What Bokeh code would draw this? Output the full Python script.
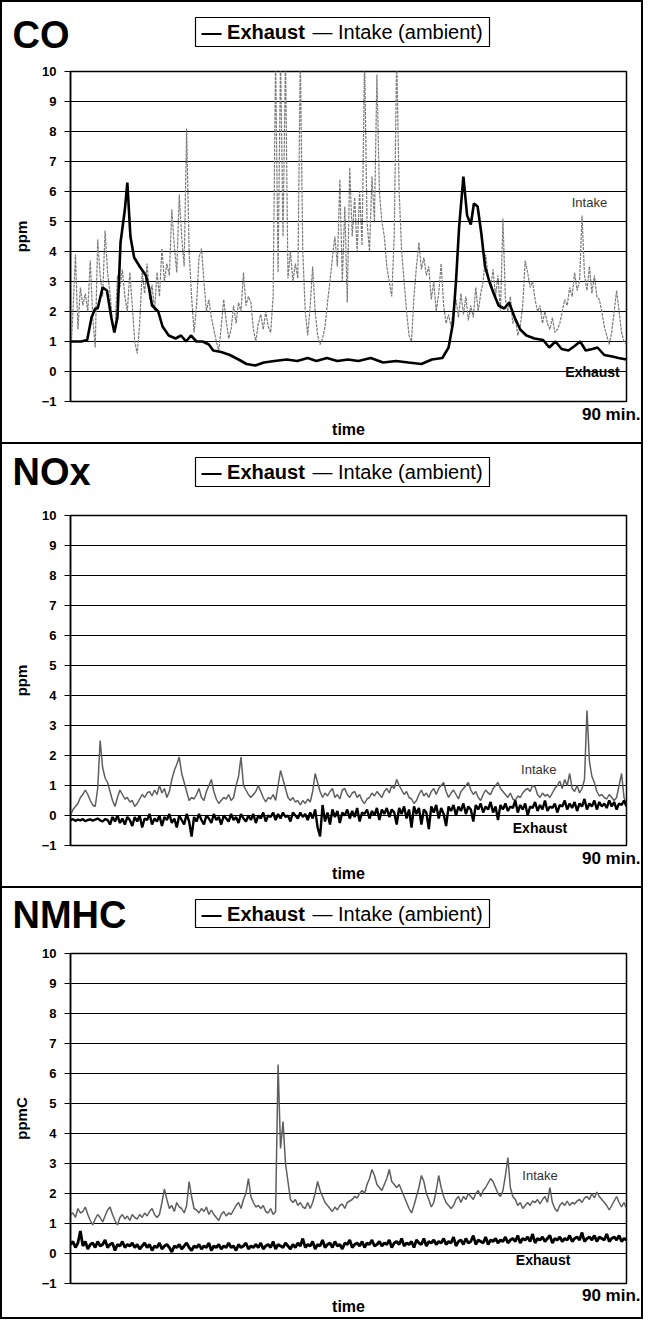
import numpy as np
from bokeh.plotting import figure
from bokeh.models import Label, FixedTicker, Range1d, Title, LinearAxis
from bokeh.layouts import column
from bokeh.embed import file_html
from bokeh.resources import INLINE
from bokeh.core.properties import value

FONT = "Liberation Sans"

# ---------------- data ----------------
panel_titles = ["CO", "NOx", "NMHC"]
y_labels = ["ppm", "ppm", "ppmC"]
y_ticks = [-1, 0, 1, 2, 3, 4, 5, 6, 7, 8, 9, 10]
series_names = ["Exhaust", "Intake (ambient)"]
end_label = "90 min."
x_label = "time"

co_exh_t = [0, 1.7, 2.7, 3.4, 4.0, 4.4, 5.2, 5.9, 6.6, 7.1,
            7.6, 8.1, 8.8, 9.2, 9.7, 10.3, 11.2, 12.2, 12.7, 13.2,
            14.2, 14.9, 15.9, 17.0, 17.9, 18.7, 19.5, 20.4, 21.4, 22.4,
            23.1, 24.4, 25.8, 27.2, 28.5, 29.9, 31.3, 33.0, 35.0, 36.7,
            38.4, 39.8, 41.5, 43.2, 44.9, 46.6, 48.6, 50.6, 52.7, 54.7,
            56.8, 58.5, 60.2, 61.2, 61.9, 62.4, 62.9, 63.6, 64.2, 64.8,
            65.3, 65.9, 66.5, 67.1, 67.8, 68.5, 69.3, 70.2, 71.0, 71.9,
            72.8, 73.8, 75.1, 76.5, 77.5, 78.5, 79.5, 80.6, 81.6, 82.5,
            83.4, 84.5, 85.3, 86.4, 87.7, 88.7, 90.0]
co_exh_v = [1.0, 1.0, 1.05, 1.8, 2.1, 2.1, 2.8, 2.7, 1.8, 1.3,
            1.8, 4.3, 5.4, 6.3, 4.5, 3.8, 3.5, 3.2, 2.8, 2.2,
            2.0, 1.5, 1.2, 1.1, 1.2, 1.0, 1.2, 1.0, 1.0, 0.9,
            0.7, 0.65, 0.55, 0.4, 0.25, 0.2, 0.3, 0.35, 0.4, 0.35,
            0.45, 0.35, 0.45, 0.35, 0.4, 0.35, 0.45, 0.3, 0.35, 0.3,
            0.25, 0.4, 0.45, 0.8, 1.6, 3.0, 4.8, 6.5, 5.2, 4.9,
            5.6, 5.5, 4.6, 3.5, 3.0, 2.6, 2.2, 2.1, 2.3, 1.8,
            1.4, 1.2, 1.1, 1.05, 0.8, 1.0, 0.75, 0.7, 0.85, 1.0,
            0.7, 0.75, 0.8, 0.55, 0.5, 0.45, 0.4]

# intake series: samples every 0.4 min from 0 to 90
co_int = [0.4, 2.0, 3.9, 1.4, 2.8, 2.2, 2.6, 2.0, 3.7, 1.8,
          0.8, 4.4, 3.2, 2.5, 4.7, 3.3, 2.6, 1.6, 1.3, 3.2,
          2.8, 3.4, 2.5, 2.0, 3.3, 2.2, 1.0, 0.6, 1.6, 3.3,
          2.6, 3.6, 2.4, 2.9, 2.0, 3.3, 2.5, 4.1, 3.0, 3.6,
          3.2, 5.4, 4.2, 3.3, 5.9, 4.5, 3.5, 8.1, 4.0, 2.5,
          1.3, 2.2, 3.8, 4.1, 3.0, 2.0, 2.4, 1.8, 1.4, 1.0,
          0.7, 1.5, 2.4, 1.7, 1.1, 1.4, 2.2, 1.6, 2.3, 2.0,
          3.3, 2.2, 2.5, 2.3, 1.4, 1.0, 1.6, 1.9, 1.4, 2.0,
          1.5, 1.3, 2.5, 10.5, 3.3, 10.5, 4.5, 10.5, 3.1, 4.0,
          3.0, 3.6, 3.1, 10.5, 4.0, 2.0, 1.2, 2.2, 3.5, 2.0,
          1.2, 0.9, 1.1, 1.5, 2.3, 3.0, 3.8, 4.5, 3.5, 6.4,
          3.0, 5.5, 2.3, 6.8, 4.5, 5.8, 4.0, 6.0, 4.2, 10.5,
          5.0, 4.0, 6.5, 5.0, 9.9, 6.0, 5.0, 4.5, 3.5, 3.0,
          2.5, 4.5, 10.5, 6.0, 4.0, 3.0, 2.0, 1.2, 1.0, 2.5,
          3.5, 4.3, 3.4, 3.8, 3.2, 3.5, 2.4, 3.0, 2.0, 2.6,
          3.6, 2.2, 1.6, 1.9, 1.5, 2.1, 2.4, 1.8, 2.6, 1.9,
          2.5, 1.7, 2.2, 1.8, 2.8, 2.0, 2.6, 3.0, 3.9, 3.2,
          2.8, 3.4, 2.5, 3.2, 2.0, 5.1, 2.4, 2.0, 2.5, 1.6,
          1.8, 1.2, 1.5, 2.2, 3.7, 3.3, 2.8, 3.0, 2.4, 2.0,
          2.2, 1.6, 2.0, 1.6, 1.4, 1.8, 1.3, 1.4, 1.6, 2.0,
          2.4, 2.2, 2.8, 2.5, 3.3, 2.7, 3.0, 5.2, 3.2, 2.7,
          3.5, 2.6, 3.2, 2.5, 2.4, 2.0, 1.5, 1.2, 0.9, 1.3,
          2.0, 2.7, 2.0, 1.3, 1.0, 0.9]

nox_int = [0.0, 0.2, 0.3, 0.4, 0.6, 0.7, 0.85, 0.7, 0.5, 0.35,
           0.3, 0.9, 2.5, 1.6, 1.25, 1.1, 0.8, 0.5, 0.3, 0.6,
           0.85, 0.7, 0.55, 0.6, 0.45, 0.5, 0.3, 0.4, 0.55, 0.7,
           0.6, 0.75, 0.8, 0.65, 0.85, 0.7, 1.0, 0.75, 0.9, 0.6,
           0.8, 1.2, 1.5, 1.7, 1.95, 1.4, 1.1, 0.8, 0.5, 0.6,
           0.55, 0.7, 0.9, 0.6, 0.5, 0.8, 1.0, 1.2, 0.8, 0.55,
           0.4, 0.5, 0.6, 0.55, 0.7, 0.5, 0.6, 1.0, 1.3, 1.95,
           1.0, 0.85, 0.7, 0.6, 0.7, 0.8, 1.0, 0.8, 0.6, 0.45,
           0.6, 0.55, 0.7, 0.5, 1.0, 1.5, 1.2, 0.9, 0.6, 0.5,
           0.6, 0.45, 0.5, 0.35, 0.5, 0.4, 0.55, 0.45, 0.8, 1.4,
           1.1, 0.8, 0.6, 0.75, 0.65, 0.8, 0.9, 0.6, 0.7, 0.55,
           0.85, 0.9, 0.7, 0.6, 0.75, 0.8, 0.6, 0.7, 0.5, 0.4,
           0.55, 0.6, 0.75, 0.65, 0.8, 0.7, 0.6, 0.8, 0.9, 0.75,
           1.0, 0.9, 1.2, 1.0, 0.85, 0.7, 0.8, 0.6, 0.55, 0.4,
           0.5, 0.7, 0.85, 0.65, 0.75, 0.6, 0.8, 0.9, 0.7, 0.9,
           1.0, 1.1, 0.8, 0.6, 0.75, 0.85, 0.7, 0.55, 0.8, 0.9,
           1.0, 1.1, 0.85, 0.7, 0.8, 0.6, 0.5, 0.7, 0.85, 0.75,
           0.7, 0.9, 1.0, 1.1, 0.9, 0.8, 0.7, 0.6, 0.75, 0.55,
           0.5, 0.65, 0.6, 0.75, 0.85, 0.9, 0.8, 1.0, 0.95, 0.7,
           0.6, 0.75, 0.65, 0.7, 0.6, 0.75, 0.9, 1.0, 1.15, 0.9,
           1.2, 1.0, 1.4, 0.9, 0.8, 1.0, 0.75, 0.9, 1.2, 3.5,
           1.8, 1.3, 1.1, 0.8, 0.65, 0.7, 0.6, 0.55, 0.7, 0.6,
           0.5, 0.6, 1.0, 1.4, 0.6, 0.35]

nox_exh = [-0.15, -0.12, -0.18, -0.14, -0.16, -0.12, -0.19, -0.15, -0.13, -0.17,
           -0.14, -0.1, -0.16, -0.2, -0.12, -0.15,
           -0.3, -0.05, -0.2, 0.0, -0.25, -0.1, -0.3, -0.05, -0.15, -0.35,
           -0.05, -0.2, 0.0, -0.4, -0.1, -0.15, 0.05, -0.3, -0.1, -0.2,
           0.0, -0.35, -0.05, -0.15, 0.05, -0.25, -0.1, -0.4, 0.0, -0.15,
           -0.3, 0.05, -0.2, -0.7, -0.05, -0.2, 0.05, -0.15, -0.3, 0.0,
           -0.1, -0.25, 0.05, -0.15, -0.05, -0.3, 0.0, -0.1, -0.2, 0.05,
           -0.15, -0.05, -0.25, 0.05, -0.1, -0.2, 0.0, -0.15, 0.05, -0.25,
           0.0, -0.1, 0.1, -0.2, 0.0, -0.05, 0.1, -0.15, 0.05, -0.1,
           0.1, -0.05, 0.0, -0.2, 0.1, 0.0, -0.1, 0.1, -0.05, 0.05,
           -0.15, 0.1, -0.1, 0.2, -0.4, -0.7, 0.35, -0.2, 0.1, -0.3,
           0.2, -0.05, 0.15, -0.25, 0.1, 0.0, 0.2, -0.1, 0.15, -0.05,
           0.25, -0.2, 0.1, 0.05, 0.2, -0.1, 0.15, 0.0, 0.25, -0.15,
           0.2, 0.05, 0.25, -0.05, 0.2, 0.1, -0.3, 0.25, 0.05, 0.3,
           -0.1, 0.2, -0.4, 0.3, 0.05, 0.25, -0.3, 0.2, 0.1, -0.45,
           0.3, 0.1, 0.35, -0.1, 0.25, 0.05, -0.35, 0.3, 0.15, 0.35,
           0.0, 0.3, 0.15, 0.4, 0.05, 0.3, 0.2, -0.2, 0.35, 0.2,
           0.4, 0.1, 0.3, 0.2, 0.45, 0.1, 0.3, -0.15, 0.35, 0.2,
           0.4, 0.15, 0.3, 0.25, 0.5, 0.1, 0.35, 0.2, 0.4, 0.0,
           0.3, 0.25, 0.45, 0.15, 0.35, 0.2, 0.5, 0.15, 0.3, 0.25,
           0.4, 0.1, 0.35, 0.3, 0.5, 0.2, 0.4, 0.25, 0.45, 0.15,
           0.4, 0.3, 0.55, 0.2, 0.4, 0.3, 0.5, 0.2, 0.45, 0.3,
           0.4, 0.25, 0.5, 0.3, 0.45, 0.2, 0.4, 0.35, 0.5, 0.3]

nmhc_int = [1.3, 1.35, 1.2, 1.5, 1.35, 1.4, 1.55, 1.3, 1.1, 0.95,
            1.15, 1.3, 1.2, 1.05, 1.25, 1.45, 1.55, 1.3, 1.1, 0.95,
            1.2, 1.3, 1.15, 1.25, 1.1, 1.3, 1.2, 1.15, 1.3, 1.2,
            1.35, 1.25, 1.4, 1.5, 1.3, 1.2, 1.3, 1.7, 2.15, 1.8,
            1.5, 1.6, 1.4, 1.7, 1.55, 1.5, 1.35, 1.6, 2.4, 1.9,
            1.5, 1.45, 1.35, 1.5, 1.4, 1.55, 1.3, 1.45, 1.3, 1.2,
            1.1, 1.3, 1.4, 1.25, 1.35, 1.3, 1.45, 1.6, 1.7, 1.5,
            1.8, 2.0, 2.5, 1.9, 1.7, 1.55, 1.6, 1.5, 1.6, 1.4,
            1.35, 1.5, 1.3, 1.4,
            6.3, 3.5, 4.4, 3.0, 2.4, 1.8,
            1.7, 1.8, 1.6, 1.7, 1.55, 1.5, 1.7, 1.5, 1.7, 2.0,
            2.4, 2.1, 1.9, 1.7, 1.6, 1.5, 1.4, 1.55, 1.45, 1.6,
            1.65, 1.5, 1.7, 1.75, 1.8, 1.9, 1.85, 2.0, 2.1, 2.0,
            2.3, 2.5, 2.8, 2.6, 2.3, 2.2, 2.1, 2.3, 2.5, 2.8,
            2.4, 2.3, 2.2, 2.3, 2.1, 1.9, 1.7, 1.5, 1.35, 1.6,
            1.9, 2.2, 2.6, 2.4, 2.0, 1.8, 1.55, 1.7, 2.1, 2.6,
            2.2, 1.9, 1.7, 1.6, 1.5, 1.6, 1.8, 1.9, 1.7, 1.9,
            1.8, 2.0, 1.9, 1.8, 2.0, 2.1, 1.9, 2.1, 2.2, 2.35,
            2.5, 2.4, 2.2, 2.0, 1.9, 2.1, 2.6, 3.2, 2.2, 1.9,
            1.8, 1.6, 1.7, 1.5, 1.6, 1.7, 1.6, 1.75, 1.7, 1.8,
            1.65, 1.8, 1.9, 1.7, 2.2, 1.7, 1.5, 1.4, 1.6, 1.7,
            1.6, 1.75, 1.6, 1.7, 1.65, 1.75, 1.8, 1.7, 1.85, 1.9,
            1.8, 2.0, 1.85, 2.05, 1.9, 1.8, 1.7, 1.6, 1.45, 1.6,
            1.75, 1.9, 1.7, 1.55, 1.7, 1.5]

nmhc_exh = [0.3, 0.4, 0.2, 0.35, 0.75, 0.25, 0.4, 0.15, 0.3, 0.35, 0.2, 0.4, 0.25,
            0.3, 0.45, 0.2, 0.3, 0.35, 0.1, 0.3, 0.25, 0.4, 0.2, 0.3, 0.25, 0.35,
            0.2, 0.3, 0.15, 0.25, 0.35, 0.2, 0.3, 0.1, 0.25, 0.2, 0.35, 0.15, 0.25,
            0.3, 0.2, 0.05, 0.25, 0.2, 0.3, 0.15, 0.25, 0.35, 0.2, 0.1, 0.25,
            0.2, 0.3, 0.15, 0.25, 0.2, 0.35, 0.1, 0.25, 0.2, 0.3, 0.15, 0.25, 0.2,
            0.35, 0.2, 0.25, 0.1, 0.3, 0.2, 0.25, 0.35, 0.15, 0.25, 0.2, 0.3,
            0.2, 0.35, 0.15, 0.25, 0.3, 0.2, 0.4, 0.15, 0.3, 0.25, 0.2, 0.35, 0.25,
            0.15, 0.3, 0.2, 0.35, 0.25, 0.5, 0.2, 0.3, 0.25, 0.4, 0.15, 0.3,
            0.25, 0.45, 0.2, 0.3, 0.35, 0.2, 0.4, 0.25, 0.3, 0.15, 0.35, 0.3, 0.45,
            0.2, 0.3, 0.35, 0.25, 0.4, 0.2, 0.35, 0.3, 0.45, 0.25, 0.3, 0.4,
            0.25, 0.35, 0.3, 0.45, 0.2, 0.35, 0.4, 0.3, 0.5, 0.25, 0.35, 0.3, 0.4,
            0.2, 0.45, 0.35, 0.3, 0.5, 0.25, 0.4, 0.35, 0.45, 0.3, 0.4, 0.35,
            0.5, 0.3, 0.4, 0.35, 0.55, 0.25, 0.4, 0.45, 0.3, 0.5, 0.35, 0.4, 0.6,
            0.3, 0.45, 0.4, 0.35, 0.55, 0.3, 0.45, 0.4, 0.5, 0.35, 0.45, 0.4,
            0.55, 0.35, 0.45, 0.5, 0.4, 0.6, 0.35, 0.5, 0.45, 0.55, 0.4, 0.65, 0.35,
            0.5, 0.45, 0.55, 0.4, 0.5, 0.6, 0.35, 0.5, 0.45, 0.55, 0.4, 0.5,
            0.45, 0.6, 0.4, 0.5, 0.55, 0.45, 0.7, 0.4, 0.5, 0.55, 0.45, 0.6, 0.4,
            0.55, 0.5, 0.45, 0.65, 0.4, 0.5, 0.55, 0.45, 0.6, 0.4, 0.5, 0.45]

T_END = 90.0
W = 639          # inner width of a panel (border adds 2px each side)
FW, FH = 556, 330
LEFT, RIGHT = 68, W - 68 - 556


def series_time(vals):
    return np.linspace(0.0, T_END, len(vals))


def header(idx, h, title_y, box_top, box_bot):
    hp = figure(width=W, height=h, x_range=Range1d(0, W), y_range=Range1d(h, 0),
                min_border=0, x_axis_location=None, y_axis_location=None,
                output_backend="svg", toolbar_location=None, tools="")
    if "frame_align" in hp.properties():
        hp.frame_align = False
    hp.grid.visible = False
    hp.outline_line_color = None
    hp.background_fill_color = "white"
    hp.border_fill_color = "white"
    hp.text(x=[10], y=[title_y], text=[panel_titles[idx]],
            text_font=value(FONT), text_font_size="38px",
            text_font_style="bold", text_color="black",
            text_baseline="middle", text_align="left")
    lb_l, lb_r = 193, 487
    hp.quad(left=[lb_l], right=[lb_r], top=[box_top], bottom=[box_bot],
            fill_color=None, line_color="black", line_width=1.2)
    ly = (box_top + box_bot) / 2
    hp.text(x=[lb_l + 6], y=[ly], text=["\u2014 " + series_names[0]],
            text_font=value(FONT), text_font_size="20px",
            text_font_style="bold", text_color="black",
            text_baseline="middle", text_align="left")
    hp.text(x=[lb_l + 117], y=[ly], text=["\u2014 " + series_names[1]],
            text_font=value(FONT), text_font_size="20px",
            text_font_style="normal", text_color="black",
            text_baseline="middle", text_align="left")
    return hp


def main(idx, exh_t, exh_v, int_t, int_v, top, bottom, int_pos, exh_pos,
         int_color, int_width, int_dash, exh_width, t_standoff, l_standoff):
    p = figure(frame_width=FW, frame_height=FH,
               min_border_left=LEFT, min_border_right=RIGHT,
               min_border_top=top, min_border_bottom=bottom,
               x_range=Range1d(0, T_END), y_range=Range1d(-1, 10),
               x_axis_location=None,
               output_backend="svg", toolbar_location=None, tools="")
    if "frame_align" in p.properties():
        p.frame_align = False
    p.background_fill_color = "white"
    p.border_fill_color = "white"
    p.outline_line_color = "black"
    p.outline_line_width = 1.5
    p.xgrid.visible = False
    p.ygrid.ticker = FixedTicker(ticks=y_ticks)
    p.ygrid.grid_line_color = "black"
    p.ygrid.grid_line_width = 1

    ya = p.yaxis[0]
    ya.ticker = FixedTicker(ticks=y_ticks)
    ya.axis_line_color = "black"
    ya.axis_line_width = 1.5
    ya.major_tick_line_color = "black"
    ya.major_tick_out = 6
    ya.major_tick_in = 0
    ya.minor_tick_line_color = None
    ya.major_label_text_font = FONT
    ya.major_label_text_font_style = "bold"
    ya.major_label_text_font_size = "13px"
    ya.major_label_text_color = "black"
    ya.major_label_standoff = 8
    ya.axis_label = y_labels[idx]
    ya.axis_label_text_font = FONT
    ya.axis_label_text_font_style = "bold"
    ya.axis_label_text_font_size = "15px"
    ya.axis_label_text_color = "black"
    ya.axis_label_standoff = 9

    # "90 min." end marker, then the x axis with its "time" label
    p.add_layout(Title(text=end_label, align="right", offset=-14,
                       standoff=t_standoff, text_font=FONT,
                       text_font_size="17px", text_font_style="bold",
                       text_color="black"), "below")
    xa = LinearAxis(ticker=FixedTicker(ticks=[]))
    xa.axis_line_color = None
    xa.major_tick_line_color = None
    xa.minor_tick_line_color = None
    xa.major_tick_out = 0
    xa.major_label_standoff = 0
    xa.major_label_text_font_size = "0px"
    xa.axis_label = x_label
    xa.axis_label_text_font = FONT
    xa.axis_label_text_font_style = "bold"
    xa.axis_label_text_font_size = "16px"
    xa.axis_label_text_color = "black"
    xa.axis_label_standoff = l_standoff
    p.add_layout(xa, "below")

    p.line(int_t, int_v, line_color=int_color, line_width=int_width,
           line_dash=int_dash)
    p.line(exh_t, exh_v, line_color="black", line_width=exh_width)

    p.add_layout(Label(x=int_pos[0], y=int_pos[1], text="Intake",
                       text_font=FONT, text_font_size="13px",
                       text_color="#333333", text_align="center",
                       text_baseline="middle"))
    p.add_layout(Label(x=exh_pos[0], y=exh_pos[1], text="Exhaust",
                       text_font=FONT, text_font_size="14px",
                       text_font_style="bold", text_color="black",
                       text_align="center", text_baseline="middle"))
    return p


h1 = header(0, 58, 32, 15, 44)
m1 = main(0, co_exh_t, co_exh_v, series_time(co_int), co_int, 11, 41,
          (84.0, 5.65), (84.5, 0.0), "#7a7a7a", 1.2, "3 1", 2.6, 2, -4)
h2 = header(1, 58, 27, 13, 42)
m2 = main(1, series_time(nox_exh), nox_exh, series_time(nox_int), nox_int,
          13, 41, (75.8, 1.55), (76.0, -0.42), "#5e5e5e", 1.5, "solid", 2.4,
          2, -4)
h3 = header(2, 54, 26, 11, 39)
m3 = main(2, series_time(nmhc_exh), nmhc_exh, series_time(nmhc_int), nmhc_int,
          11, 33, (76.0, 2.6), (76.5, -0.2), "#5e5e5e", 1.5, "solid", 2.8,
          0, -7)

panel1 = column(h1, m1, spacing=0, styles={"border": "2px solid black"})
panel2 = column(h2, m2, spacing=0, styles={"border": "2px solid black",
                                           "border-top": "none"})
panel3 = column(h3, m3, spacing=0, styles={"border": "2px solid black",
                                           "border-top": "none"})
layout = column(panel1, panel2, panel3, spacing=0)
open("out.html", "w").write(file_html(layout, INLINE))
